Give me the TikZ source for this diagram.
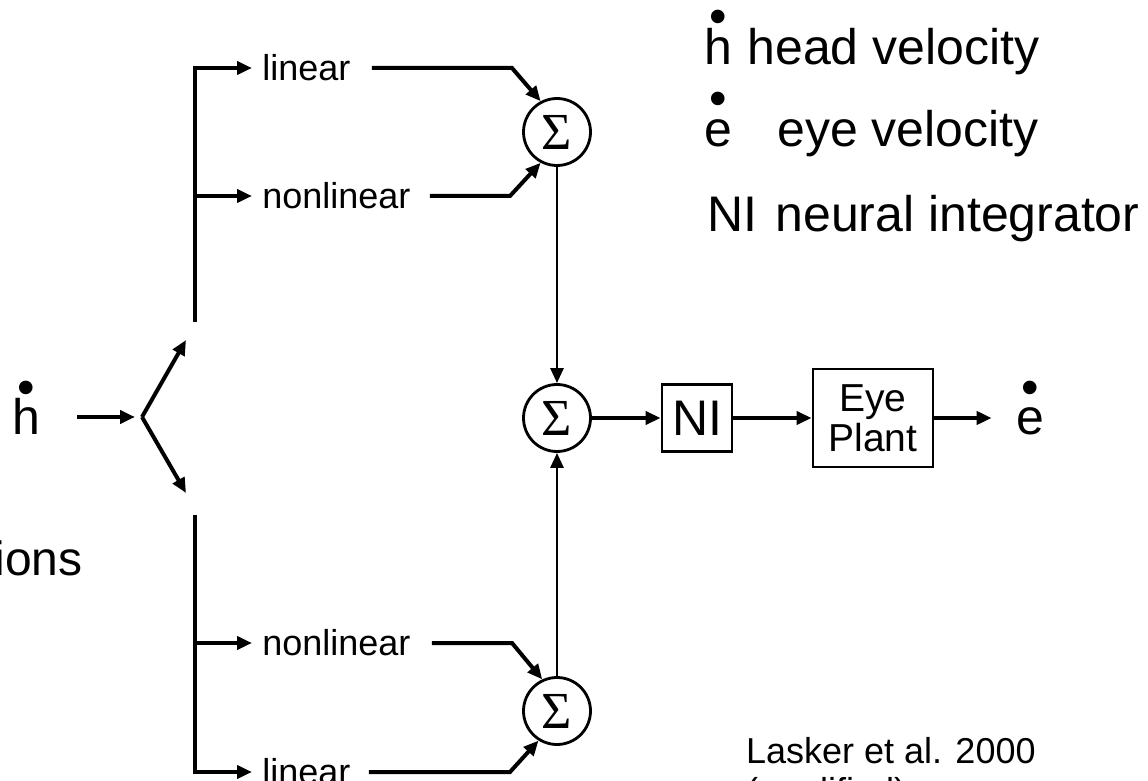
\documentclass[tikz,border=0pt]{standalone}
\usepackage{fontspec}
\setmainfont{Liberation Sans}
\newfontfamily\serifsym{Liberation Serif}
\usetikzlibrary{
		arrows.meta,
		calc,
		positioning
	}
\tikzset{
		>={Triangle[length=7.5pt,width=6.5pt]},
		wire/.style={line width=2pt},
		wirethin/.style={line width=1.4pt},
		sumnode/.style={circle,draw,line width=1.4pt,minimum size=33.5pt,inner sep=0pt,
			font=\serifsym\fontsize{26}{30}\selectfont},
		blk/.style={draw,line width=1.4pt,inner sep=0pt},
		lbl/.style={inner sep=0pt,font=\fontsize{18}{21}\selectfont},
		big/.style={inner sep=0pt,font=\fontsize{25}{30}\selectfont}
	}
\newcommand{\rate}[1]{\ooalign{#1\cr\hidewidth\raisebox{0.62em}{\textbullet}\hidewidth\cr}}

\begin{document}
\begin{tikzpicture}[x=0.5pt,y=-0.5pt]
\useasboundingbox (0,0) rectangle (1148,781);
\clip (0,0) rectangle (1148,781);

% input and split
\node[big,anchor=base] (hin) at (26,435) {\rate{h}};
\coordinate (split) at (142,417);
\coordinate (upend) at (186,340);
\coordinate (downend) at (186,493);
\draw[wire,->,shorten <=18.5pt,shorten >=3.5pt] (hin.east |- split) -- (split);
\draw[wire,->] (split) -- (upend);
\draw[wire,->] (split) -- (downend);

% branches
\coordinate (trunkA) at (195,322);
\coordinate (trunkB) at (195,515);
\node[lbl,anchor=west] (linA) at (262,68) {linear};
\node[lbl,anchor=west] (nonA) at (262,196) {nonlinear};
\node[lbl,anchor=west] (nonB) at (262,643) {nonlinear};
\node[lbl,anchor=west] (linB) at (262,772) {linear};
\draw[wire,->,shorten >=5pt] (trunkA) |- (linA.west);
\draw[wire,->,shorten >=5pt] (trunkA |- nonA) -- (nonA.west);
\draw[wire,->,shorten >=5pt] (trunkB) |- (linB.west);
\draw[wire,->,shorten >=5pt] (trunkB |- nonB) -- (nonB.west);

% summing junctions
\node[sumnode] (s1) at (557,132) {Σ};
\node[sumnode] (s2) at (557,418) {Σ};
\node[sumnode] (s3) at (557,711) {Σ};
\coordinate (kA1) at (512,68);
\coordinate (kA2) at (510,196);
\coordinate (kB1) at (512,643);
\coordinate (kB2) at (510,772);
\draw[wire,->,shorten <=10.5pt] (linA.east) -- (kA1) -- (s1.118);
\draw[wire,->,shorten <=9.5pt] (nonA.east) -- (kA2) -- (s1.242);
\draw[wire,->,shorten <=10.5pt] (nonB.east) -- (kB1) -- (s3.115);
\draw[wire,->,shorten <=9pt] (linB.east) -- (kB2) -- (s3.238);
\draw[wirethin,->] (s1) -- (s2);
\draw[wirethin,->] (s3) -- (s2);

% output path
\node[blk,big,minimum width=35pt,minimum height=33.5pt] (ni) at (697,418) {NI};
\node[blk,font=\fontsize{19.5}{20}\selectfont,minimum width=60pt,minimum height=49pt,align=center] (plant) at (873,418) {Eye\\Plant};
\node[big,anchor=base] (eout) at (1030,435) {\rate{e}};
\draw[wire,->] (s2) -- (ni);
\draw[wire,->] (ni) -- (plant);
\draw[wire,->,shorten >=12pt] (plant.east) -- (plant.east -| eout.west);

% key
\node[big,anchor=base] (keyh) at (718,65) {\rate{h}};
\node[big,anchor=base west] (keyhtxt) at (747,65) {head velocity};
\node[big,anchor=base] (keye) at (718,147) {\rate{e}};
\node[big,anchor=base west] (keyetxt) at (777,147) {eye velocity};
\node[big,anchor=base west] (keyni) at (707,232) {NI};
\node[big,anchor=base west] (keynitxt) at (775,232) {neural integrator};

% cut-off texts
\node[big,font=\fontsize{24}{28}\selectfont,anchor=base east] (cutoff) at (83,575) {ions};
\node[lbl,anchor=base east] (cite) at (1036,763) {Lasker et al. 2000};
\node[lbl,anchor=base west] (citenote) at ($(cite.base west)+(0,40)$) {(modified)};
\end{tikzpicture}
\end{document}
